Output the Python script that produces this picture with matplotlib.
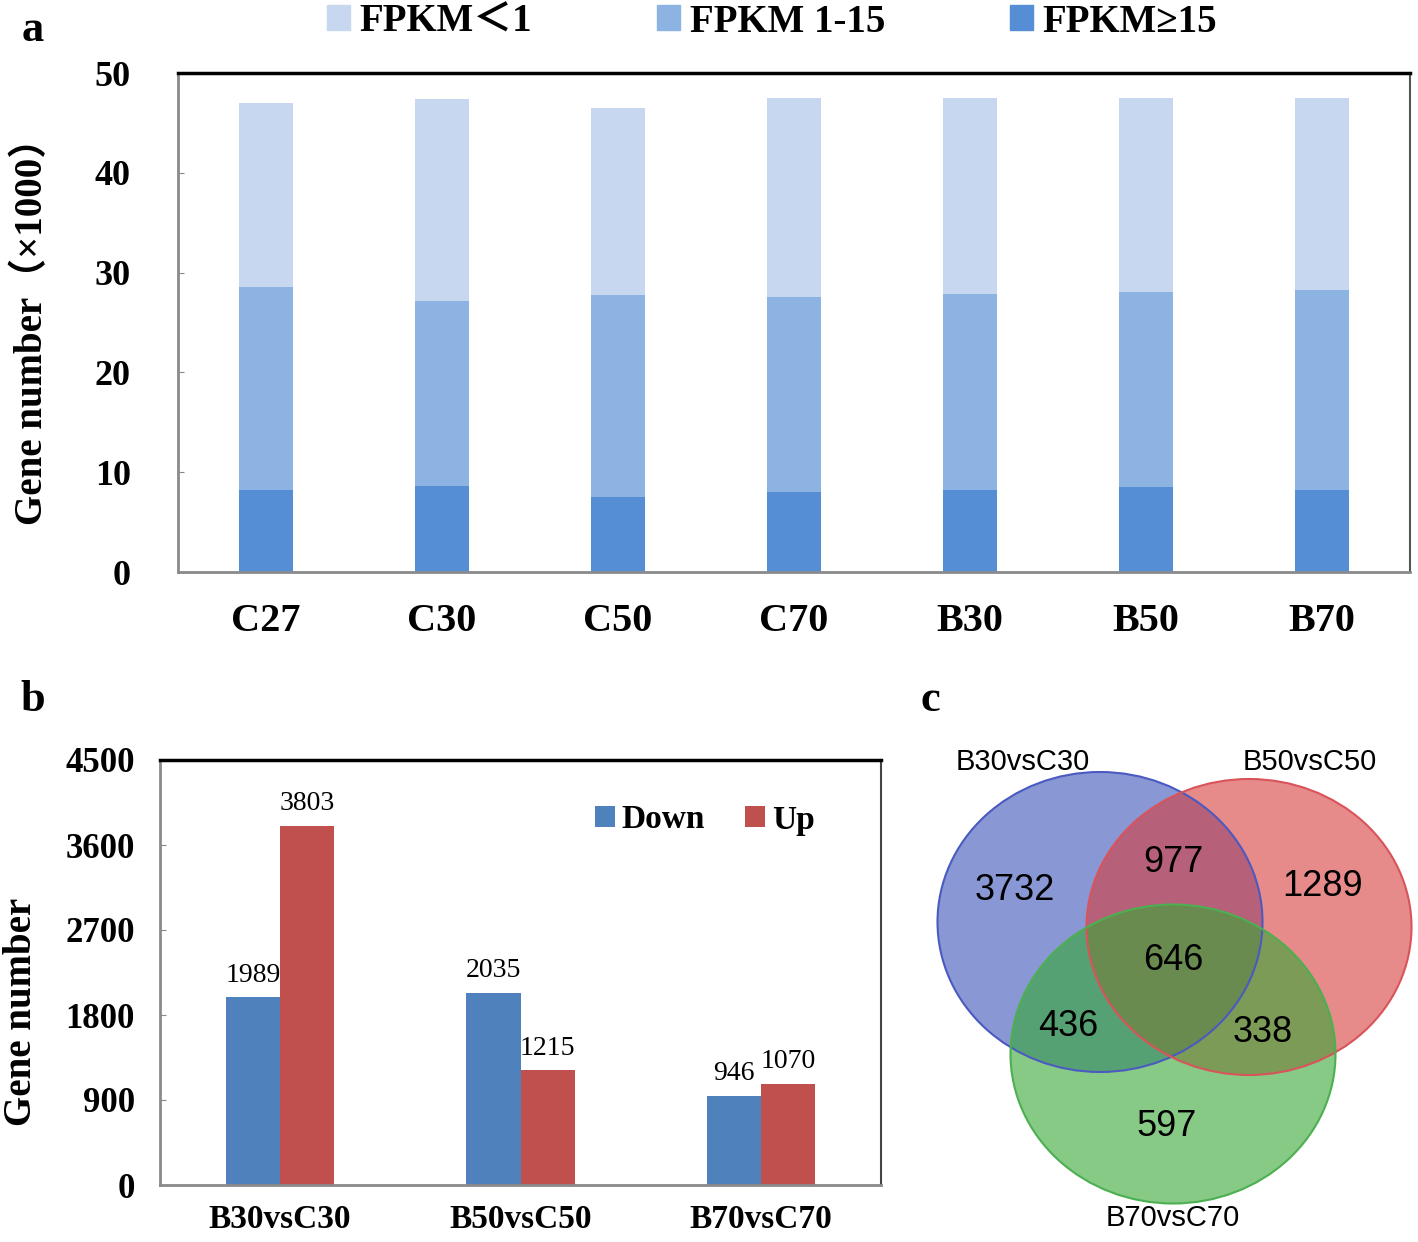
import numpy as np
import matplotlib
matplotlib.use('Agg')
import matplotlib.pyplot as plt
from matplotlib.patches import Patch, Ellipse

# panel a: genes per FPKM class (x1000)
samples = ['C27', 'C30', 'C50', 'C70', 'B30', 'B50', 'B70']
fpkm_high = [8.2, 8.6, 7.5, 8.0, 8.2, 8.5, 8.2]      # FPKM>=15
fpkm_mid = [20.4, 18.6, 20.3, 19.6, 19.7, 19.6, 20.1]  # FPKM 1-15
fpkm_low = [18.4, 20.2, 18.7, 19.9, 19.6, 19.4, 19.2]  # FPKM<1
a_ticks = [0, 10, 20, 30, 40, 50]

# panel b: DEGs
comparisons = ['B30vsC30', 'B50vsC50', 'B70vsC70']
down = [1989, 2035, 946]
up = [3803, 1215, 1070]
b_ticks = [0, 900, 1800, 2700, 3600, 4500]

# panel c: venn counts
venn_sets = ['B30vsC30', 'B50vsC50', 'B70vsC70']
venn_counts = {'100': 3732, '010': 1289, '001': 597,
               '110': 977, '101': 436, '011': 338, '111': 646}

serif = 'Liberation Serif'
W, H = 1418, 1242
fig = plt.figure(figsize=(W / 100, H / 100), dpi=100)

def px_axes(l, t, r, b):
    return fig.add_axes([l / W, 1 - b / H, (r - l) / W, (b - t) / H])

# ---------------- panel a ----------------
ax = px_axes(178, 73, 1410, 572)
x = np.arange(len(samples))
c_low, c_mid, c_high = '#C6D7EF', '#8DB3E2', '#558ED5'
ax.bar(x, fpkm_high, 0.31, color=c_high)
ax.bar(x, fpkm_mid, 0.31, bottom=fpkm_high, color=c_mid)
ax.bar(x, fpkm_low, 0.31, bottom=np.array(fpkm_high) + np.array(fpkm_mid), color=c_low)
ax.set_xlim(-0.5, 6.5)
ax.set_ylim(0, 50)
ax.set_yticks(a_ticks)
ax.set_yticklabels([str(t) for t in a_ticks], fontfamily=serif, fontweight='bold', fontsize=26)
ax.set_xticks(x)
ax.set_xticklabels(samples, fontfamily=serif, fontweight='bold', fontsize=29)
ax.tick_params(axis='y', direction='in', length=4, pad=34, color='#888888')
ax.tick_params(axis='x', length=0, pad=22)
fig.text(32 / W, 1 - 322 / H, 'Gene number（×1000）', family=[serif, 'Noto Sans CJK SC'],
         fontweight='bold', fontsize=28, rotation=90, ha='center', va='center')
for s in ['left', 'bottom']:
    ax.spines[s].set_color('#8a8a8a')
    ax.spines[s].set_linewidth(2)
ax.spines['top'].set_color('black')
ax.spines['top'].set_linewidth(2.5)
ax.spines['right'].set_color('#555555')
ax.spines['right'].set_linewidth(1.5)

handles = [Patch(color=c_low), Patch(color=c_mid), Patch(color=c_high)]
leg = fig.legend(handles, ['FPKM＜1', 'FPKM 1-15', 'FPKM≥15'], loc='center',
                 bbox_to_anchor=(772 / W, 1 - 22 / H), ncol=3, frameon=False,
                 handlelength=0.6, handleheight=0.6, handletextpad=0.25,
                 columnspacing=3.2,
                 prop={'family': [serif, 'Noto Sans CJK SC'], 'weight': 'bold', 'size': 28})

for lab, lx, ly in [('a', 33, 30), ('b', 33, 700), ('c', 930, 700)]:
    fig.text(lx / W, 1 - ly / H, lab, fontfamily=serif, fontweight='bold', fontsize=32,
             ha='center', va='center')

# ---------------- panel b ----------------
bx = px_axes(160, 760, 881, 1185)
xb = np.arange(len(comparisons))
w = 0.225
b1 = bx.bar(xb - w / 2, down, w, color='#4F81BD', label='Down')
b2 = bx.bar(xb + w / 2, up, w, color='#C0504D', label='Up')
for bars, vals in [(b1, down), (b2, up)]:
    for rect, v in zip(bars, vals):
        bx.text(rect.get_x() + rect.get_width() / 2, v + 100, str(v), ha='center', va='bottom',
                fontfamily=serif, fontsize=20)
bx.set_xlim(-0.5, 2.5)
bx.set_ylim(0, 4500)
bx.set_yticks(b_ticks)
bx.set_yticklabels([str(t) for t in b_ticks], fontfamily=serif, fontweight='bold', fontsize=25)
bx.set_xticks(xb)
bx.set_xticklabels(comparisons, fontfamily=serif, fontweight='bold', fontsize=24)
bx.tick_params(axis='y', direction='in', length=4, pad=18, color='#888888')
bx.tick_params(axis='x', length=0, pad=14)
fig.text(22 / W, 1 - 1012 / H, 'Gene number', fontfamily=serif, fontweight='bold',
         fontsize=28, rotation=90, ha='center', va='center')
for s in ['left', 'bottom']:
    bx.spines[s].set_color('#8a8a8a')
    bx.spines[s].set_linewidth(2)
bx.spines['top'].set_color('black')
bx.spines['top'].set_linewidth(2.5)
bx.spines['right'].set_color('#444444')
bx.spines['right'].set_linewidth(1.5)
bx.legend(loc='center', bbox_to_anchor=((705 - 160) / 721, (1185 - 820) / 425), ncol=2,
          frameon=False, handlelength=0.6, handleheight=0.6, handletextpad=0.2,
          columnspacing=1.2, prop={'family': serif, 'weight': 'bold', 'size': 24})

# ---------------- panel c ----------------
cx = px_axes(920, 740, 1418, 1242)
cx.set_xlim(920, 1418)
cx.set_ylim(1242, 740)
cx.axis('off')
ell = [((1100, 922), 325, 300, '#3A52B8', '#4A5AC0'),
       ((1249, 927), 325, 296, '#D63C3C', '#D9545A'),
       ((1173, 1054), 325, 299, '#35A835', '#4CAF50')]
for (cen, ew, eh, fc, ec) in ell:
    cx.add_patch(Ellipse(cen, ew, eh, facecolor=fc, alpha=0.6, edgecolor='none'))
for (cen, ew, eh, fc, ec) in ell:
    cx.add_patch(Ellipse(cen, ew, eh, facecolor='none', edgecolor=ec, lw=1.5))

sans = 'Liberation Sans'
set_pos = [(1023, 762), (1310, 762), (1173, 1218)]
for name, (px, py) in zip(venn_sets, set_pos):
    cx.text(px, py, name, ha='center', va='center', fontfamily=sans, fontsize=21)
count_pos = {'100': (1015, 890), '010': (1323, 887), '001': (1167, 1127),
             '110': (1173, 862), '101': (1068, 1027), '011': (1263, 1032),
             '111': (1173, 960)}
for k, v in venn_counts.items():
    px, py = count_pos[k]
    cx.text(px, py, str(v), ha='center', va='center', fontfamily=sans, fontsize=26)

fig.savefig('out.png', dpi=100)
